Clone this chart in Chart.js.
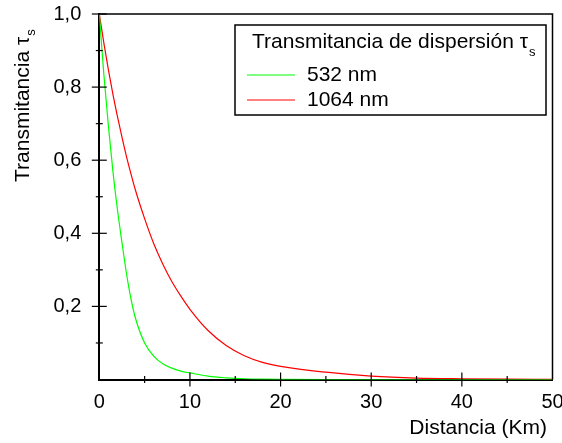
<!DOCTYPE html>
<html><head><meta charset="utf-8">
<script src="https://cdn.jsdelivr.net/npm/chart.js@4.4.0/dist/chart.umd.min.js"></script>
<style>html,body{margin:0;padding:0;background:#fff;}#wrap{width:562px;height:443px;}</style>
</head><body><div id="wrap"><canvas id="c" width="562" height="443"></canvas></div>
<script>
// Distance (Km)
const distances = [0, 0.5, 1, 1.5, 2, 2.5, 3, 3.5, 4, 5, 6, 7, 8, 9, 10, 12, 14, 16, 18, 20, 25, 30, 35, 40, 45, 50];
// Scattering transmittance, 532 nm (green)
const trans532 = [1.0, 0.835, 0.695, 0.57, 0.465, 0.375, 0.29, 0.22, 0.167, 0.10, 0.064, 0.043, 0.031, 0.023, 0.018, 0.009, 0.0045, 0.002, 0.001, 0.0005, 0, 0, 0, 0, 0, 0];
// Scattering transmittance, 1064 nm (red)
const trans1064 = [1.0, 0.921, 0.848, 0.781, 0.72, 0.663, 0.61, 0.562, 0.517, 0.44, 0.372, 0.316, 0.268, 0.228, 0.192, 0.134, 0.093, 0.065, 0.047, 0.036, 0.020, 0.0095, 0.004, 0.002, 0.001, 0.0005];
const seriesLabels = ['532 nm', '1064 nm'];
const seriesColors = ['#00ff00', '#ff0000'];
const yLabelValues = [0.2, 0.4, 0.6, 0.8, 1.0];
const xLabelValues = [0, 10, 20, 30, 40, 50];
const legendTitle = 'Transmitancia de dispersión τ';
const yTitle = 'Transmitancia τ';
const xTitle = 'Distancia (Km)';

const FONT = "'Liberation Sans', Arial, sans-serif";
const FS = 20;   // tick labels
const FT = 21;   // titles and legend

const toPts = vals => distances.map((d, i) => ({x: d, y: vals[i]}));

const decor = {
  id: 'decor',
  afterDraw(chart) {
    const ctx = chart.ctx;
    const xs = chart.scales.x, ys = chart.scales.y;
    const a = chart.chartArea;
    ctx.save();
    // frame top/right
    ctx.strokeStyle = '#000';
    ctx.lineWidth = 1.5;
    ctx.beginPath();
    ctx.moveTo(a.left, a.top); ctx.lineTo(a.right, a.top); ctx.lineTo(a.right, a.bottom);
    ctx.stroke();
    // crossing ticks
    ctx.lineWidth = 1.2;
    ys.ticks.forEach(t => {
      const v = Math.round(t.value * 10);
      if (v === 0) return;
      const py = ys.getPixelForValue(t.value);
      const L = (v % 2 === 0) ? 7.5 : 3.5;
      ctx.beginPath(); ctx.moveTo(a.left - L, py); ctx.lineTo(a.left + L, py); ctx.stroke();
    });
    xs.ticks.forEach(t => {
      const v = Math.round(t.value);
      if (v === 0 || v === 50) return;
      const px = xs.getPixelForValue(t.value);
      const L = (v % 10 === 0) ? 7 : 3.5;
      ctx.beginPath(); ctx.moveTo(px, a.bottom - L); ctx.lineTo(px, a.bottom + L); ctx.stroke();
    });
    ctx.fillStyle = '#000';
    // x title
    ctx.font = FT + 'px ' + FONT;
    ctx.textAlign = 'right';
    ctx.textBaseline = 'middle';
    ctx.fillText(xTitle, 547, 428);
    // y title rotated with subscript
    ctx.translate(23, 182);
    ctx.rotate(-Math.PI / 2);
    ctx.textAlign = 'left';
    ctx.fillText(yTitle, 0, 0);
    const w = ctx.measureText(yTitle).width;
    ctx.font = '13px ' + FONT;
    ctx.fillText('s', w + 1, 8);
    ctx.setTransform(1, 0, 0, 1, 0, 0);
    // legend box
    const bx = 235, by = 25, bw = 311, bh = 90;
    ctx.fillStyle = '#fff';
    ctx.fillRect(bx, by, bw, bh);
    ctx.lineWidth = 1.5;
    ctx.strokeStyle = '#000';
    ctx.strokeRect(bx, by, bw, bh);
    ctx.fillStyle = '#000';
    ctx.font = FT + 'px ' + FONT;
    ctx.textBaseline = 'middle';
    ctx.fillText(legendTitle, 252, 42);
    const tw = ctx.measureText(legendTitle).width;
    ctx.font = '13px ' + FONT;
    ctx.fillText('s', 252 + tw + 1, 52);
    chart.data.datasets.forEach((ds, i) => {
      const yy = 75 + i * 25;
      ctx.strokeStyle = ds.borderColor;
      ctx.lineWidth = 1;
      ctx.beginPath(); ctx.moveTo(247, yy); ctx.lineTo(295, yy); ctx.stroke();
      ctx.fillStyle = '#000';
      ctx.font = FT + 'px ' + FONT;
      ctx.fillText(ds.label, 307, yy);
    });
    ctx.restore();
  }
};

new Chart(document.getElementById('c'), {
  type: 'line',
  data: {
    datasets: [
      {label: seriesLabels[0], data: toPts(trans532), borderColor: seriesColors[0], borderWidth: 1.2, pointRadius: 0, cubicInterpolationMode: 'monotone', fill: false},
      {label: seriesLabels[1], data: toPts(trans1064), borderColor: seriesColors[1], borderWidth: 1.2, pointRadius: 0, cubicInterpolationMode: 'monotone', fill: false}
    ]
  },
  options: {
    responsive: false,
    animation: false,
    devicePixelRatio: 1,
    layout: {padding: {top: 14, right: 9.5, left: 0, bottom: 0}},
    plugins: {legend: {display: false}, tooltip: {enabled: false}},
    scales: {
      x: {
        type: 'linear', min: 0, max: 50,
        grid: {display: false},
        border: {display: true, color: '#000', width: 2},
        ticks: {
          stepSize: 5, autoSkip: false, maxRotation: 0, color: '#000', padding: 3,
          font: {family: FONT, size: FS},
          callback: v => xLabelValues.includes(Math.round(v)) && Math.abs(v - Math.round(v)) < 1e-6 ? String(Math.round(v)) : ''
        },
        afterFit: s => { s.height = 63.5; s.paddingLeft = 0; s.paddingRight = 0; }
      },
      y: {
        type: 'linear', min: 0, max: 1,
        grid: {display: false},
        border: {display: true, color: '#000', width: 2},
        ticks: {
          stepSize: 0.1, autoSkip: false, color: '#000', padding: 10,
          font: {family: FONT, size: FS},
          callback: v => yLabelValues.some(l => Math.abs(l - v) < 1e-6) ? v.toFixed(1).replace('.', ',') : ''
        },
        afterFit: s => { s.width = 99.3; s.paddingTop = 0; s.paddingBottom = 0; }
      }
    }
  },
  plugins: [decor]
});
</script></body></html>
